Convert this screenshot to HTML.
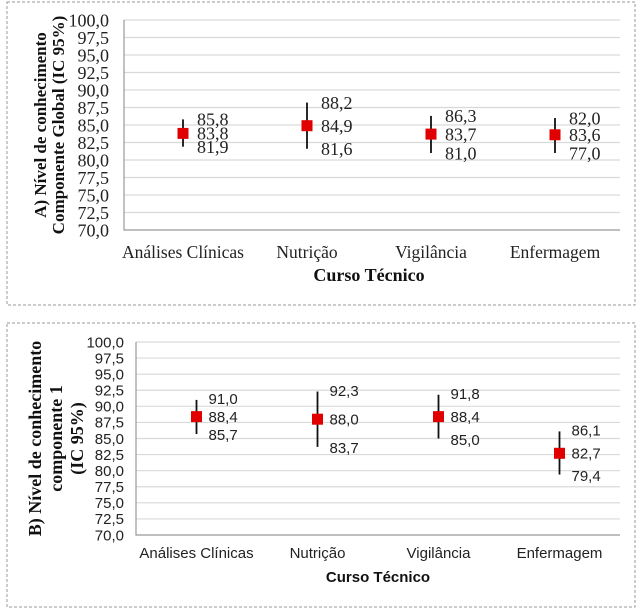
<!DOCTYPE html>
<html><head><meta charset="utf-8"><style>
body{margin:0;background:#fff;width:640px;height:612px;overflow:hidden}
svg{display:block}
</style></head><body>
<svg id="s" width="640" height="612" xmlns="http://www.w3.org/2000/svg"></svg>
<script>
const categories=["Análises Clínicas","Nutrição","Vigilância","Enfermagem"];
const yTicks=[70,72.5,75,77.5,80,82.5,85,87.5,90,92.5,95,97.5,100];
const meanA=[83.8,84.9,83.7,83.6];
const upperA=[85.8,88.2,86.3,82.0];
const lowerA=[81.9,81.6,81.0,77.0];
const barTopA=[85.8,88.2,86.3,86.0];
const barBottomA=[81.9,81.6,81.0,81.0];
const meanB=[88.4,88.0,88.4,82.7];
const upperB=[91.0,92.3,91.8,86.1];
const lowerB=[85.7,83.7,85.0,79.4];
const NS="http://www.w3.org/2000/svg";
const svg=document.getElementById('s');
function mk(t,a,p){const e=document.createElementNS(NS,t);for(const k in a)e.setAttribute(k,a[k]);(p||svg).appendChild(e);return e;}
const fmt=v=>v.toFixed(1).replace('.',',');
function panel(o){
  const g=mk('g',{});
  
  
  const fr=mk('rect',{x:o.fx,y:o.fy,width:o.fw,height:o.fh,fill:'none',stroke:'#999','stroke-dasharray':'3,2','stroke-width':1},g);
  
  
  const y=v=>o.y0+(v-70)/30*(o.y1-o.y0);
  const bw=(o.x1-o.x0)/categories.length;
  const x=i=>o.x0+bw*(i+0.5)+o.dx;
  yTicks.forEach(t=>{
    if(t>70){const l=mk('line',{x1:o.x0,x2:o.x1,y1:y(t),y2:y(t),stroke:'#d9d9d9','stroke-width':1.2},g);
      
      }
    const tx=mk('text',{x:o.x0-o.tgap,y:y(t)+o.tfs*0.35,'text-anchor':'end','font-family':o.font,'font-size':o.tfs,fill:'#222'},g);
    tx.textContent=fmt(t);
    
    
  });
  const ax=mk('path',{d:`M${o.x0} ${o.y1}V${o.y0}H${o.x1}`,fill:'none',stroke:'#999','stroke-width':1.2},g);
  
  
  categories.forEach((c,i)=>{
    const t=mk('text',{x:x(i),y:o.labY,'text-anchor':'middle','font-family':o.font,'font-size':o.cfs,fill:'#222'},g);
    t.textContent=c;
    
    
    const eb=mk('line',{x1:x(i),x2:x(i),y1:y(o.bt[i]),y2:y(o.bb[i]),stroke:'#111','stroke-width':1.8},g);
    
    
    const m=mk('rect',{x:x(i)-5.5,y:y(o.mean[i])-5.5,width:11,height:11,fill:'#e00000'},g);
    
    
    [[o.up[i],y(o.bt[i])+o.off],[o.mean[i],y(o.mean[i])],[o.lo[i],y(o.bb[i])-o.off]].forEach(([v,py])=>{
      const vt=mk('text',{x:x(i)+o.lx,y:py+o.vfs*0.35,'font-family':o.font,'font-size':o.vfs,fill:'#222'},g);
      vt.textContent=fmt(v);
      
      
    });
  });
  const at=mk('text',{x:(o.x0+o.x1)/2+o.dx,y:o.titY,'text-anchor':'middle','font-family':o.font,'font-size':o.afs,'font-weight':'bold',fill:'#111'},g);
  at.textContent='Curso Técnico';
  
  
  const yt=mk('text',{transform:`translate(${o.ytx},${(o.y0+o.y1)/2}) rotate(-90)`,'text-anchor':'middle','font-family':'Liberation Serif, serif','font-size':o.yfs,'font-weight':'bold',fill:'#111'},g);
  
  
  o.ylines.forEach((s,k)=>{const ts=mk('tspan',{x:0,y:k*o.ygap},yt);ts.textContent=s;});
}
panel({name:'panel-a',fx:7,fy:2,fw:628,fh:303,x0:124,x1:620,y0:230,y1:20,dx:-3,tgap:15,
  font:'Liberation Serif, serif',tfs:18,cfs:17.5,vfs:18,afs:18,off:0,lx:14,labY:258,titY:281,ytx:46,yfs:17,ygap:18,
  mean:meanA,up:upperA,lo:lowerA,bt:barTopA,bb:barBottomA,ylines:['A) Nível de conhecimento','Componente Global (IC  95%)']});
panel({name:'panel-b',fx:7,fy:323,fw:628,fh:284,x0:136,x1:620,y0:535,y1:342,dx:0,tgap:12,
  font:'Liberation Sans, sans-serif',tfs:15,cfs:15,vfs:15,afs:15,off:-1,lx:12,labY:558,titY:582,ytx:41,yfs:18,ygap:21,
  mean:meanB,up:upperB,lo:lowerB,bt:upperB,bb:lowerB,ylines:['B) Nível de conhecimento','componente 1','(IC  95%)']});
</script>
</body></html>
